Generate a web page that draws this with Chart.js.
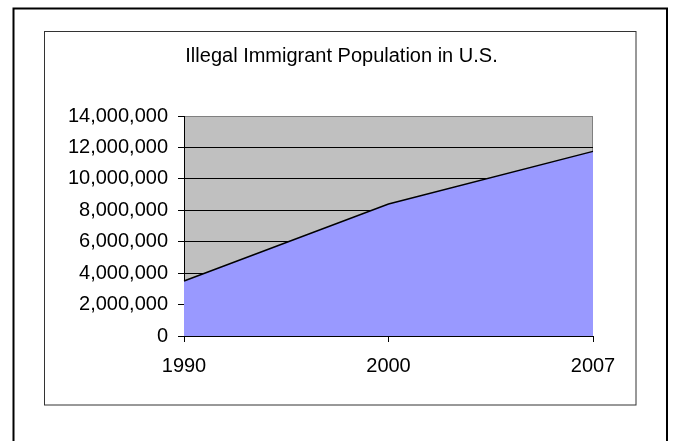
<!DOCTYPE html>
<html>
<head>
<meta charset="utf-8">
<script src="https://cdn.jsdelivr.net/npm/chart.js@4/dist/chart.umd.min.js"></script>
<style>
  body { margin: 0; background: #fff; }
  canvas { display: block; }
</style>
</head>
<body>
<canvas id="chart" width="673" height="441"></canvas>
<script>
const years = ['1990', '2000', '2007'];
const population = [3500000, 8400000, 11750000];
const yMax = 14000000;
const yStep = 2000000;

// frames around the picture + grey plot background
const framePlugin = {
    id: 'frames',
    beforeDraw(chart) {
        const c = chart.ctx;
        const a = chart.chartArea;
        c.save();
        c.fillStyle = '#fff';
        c.fillRect(0, 0, chart.width, chart.height);
        c.strokeStyle = '#000';
        c.lineWidth = 2;
        c.strokeRect(13.5, 8.5, 653.5, 500);
        c.strokeStyle = '#333';
        c.lineWidth = 1;
        c.strokeRect(44.5, 31.5, 591.5, 373.5);
        c.fillStyle = '#c0c0c0';
        c.fillRect(a.left, a.top, a.right - a.left, a.bottom - a.top);
        c.strokeStyle = '#808080';
        c.strokeRect(a.left + 0.5, a.top + 0.5, a.right - a.left - 1, a.bottom - a.top);
        c.restore();
    }
};

const font = { family: "'Liberation Sans', Arial, sans-serif", size: 20 };

new Chart(document.getElementById('chart').getContext('2d'), {
    type: 'line',
    data: {
        labels: years,
        datasets: [{
            data: population,
            borderColor: '#000',
            borderWidth: 1.5,
            backgroundColor: '#9999ff',
            fill: 'origin',
            tension: 0,
            pointRadius: 0
        }]
    },
    options: {
        responsive: false,
        animation: false,
        layout: { padding: { left: 10, right: 0, top: 0, bottom: 0 } },
        plugins: {
            legend: { display: false },
            tooltip: { enabled: false },
            title: {
                display: true,
                text: 'Illegal Immigrant Population in U.S.',
                color: '#000',
                font: { ...font, weight: 'normal' },
                padding: { top: 44, bottom: 48 }
            }
        },
        scales: {
            x: {
                offset: false,
                grid: { drawOnChartArea: false, drawTicks: true, tickLength: 6, tickColor: '#000' },
                border: { color: '#000', width: 1 },
                ticks: { color: '#000', font: font, padding: 12, maxRotation: 0 },
                afterFit(s) { s.height = 105; }
            },
            y: {
                min: 0,
                max: yMax,
                grid: {
                    color: ctx => ctx.tick && ctx.tick.value === yMax ? '#808080' : '#000',
                    tickColor: '#000',
                    tickLength: 6
                },
                border: { color: '#000', width: 1 },
                ticks: {
                    stepSize: yStep,
                    color: '#000',
                    font: font,
                    padding: 10,
                    callback: v => v.toLocaleString('en-US')
                },
                afterFit(s) { s.width = 174; }
            },
            // empty right axis, only keeps the white margin right of the plot
            spacer: {
                position: 'right',
                grid: { display: false },
                border: { display: false },
                ticks: { display: false },
                afterFit(s) { s.width = 80; }
            }
        }
    },
    plugins: [framePlugin]
});
</script>
</body>
</html>
